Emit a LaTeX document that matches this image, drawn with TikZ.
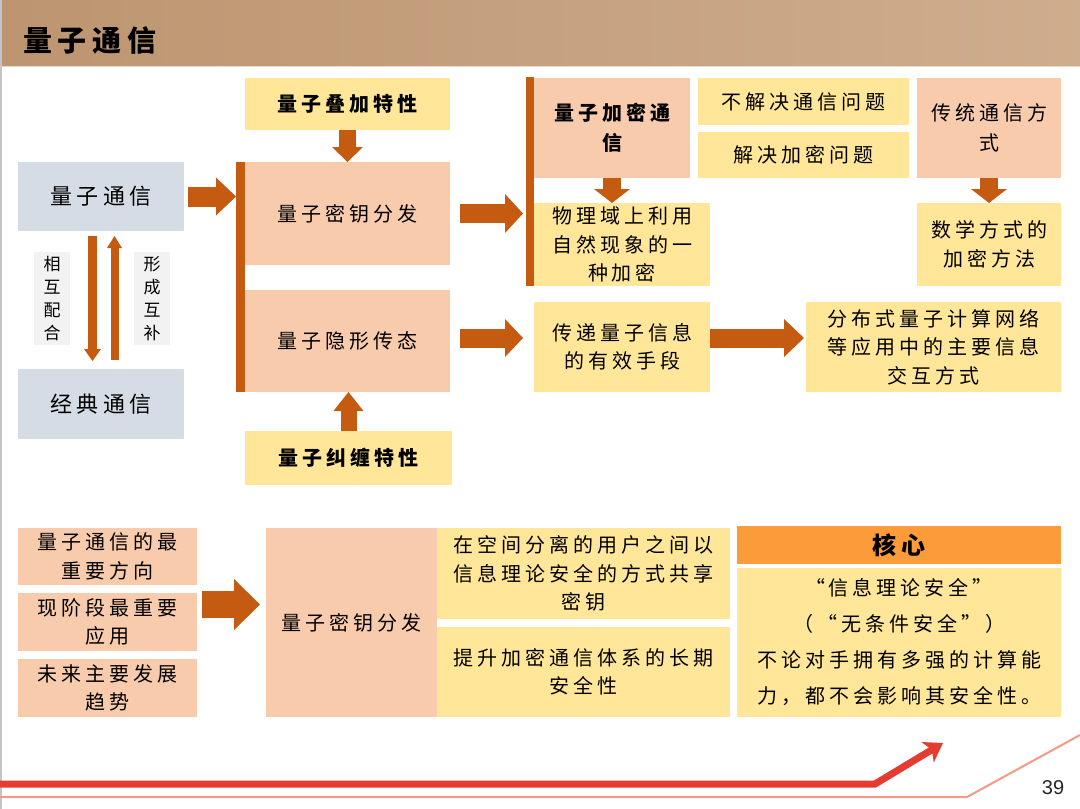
\documentclass[tikz,border=0pt]{standalone}
\usepackage{fontspec}
\setmainfont{Noto Sans CJK SC}
\newfontfamily\cjk{Noto Sans CJK SC}[LetterSpace=20]
\newfontfamily\cjkn{Noto Sans CJK SC}
\newfontfamily\numfont{Liberation Sans}
\usetikzlibrary{arrows.meta}
\definecolor{peach}{HTML}{F8CBAD}
\definecolor{ylw}{HTML}{FFE699}
\definecolor{bgrey}{HTML}{D6DCE5}
\definecolor{dorg}{HTML}{C55A11}
\definecolor{lgrey}{HTML}{F2F2F2}
\definecolor{corange}{HTML}{FB9B3A}
\definecolor{hdl}{HTML}{BD9570}
\definecolor{hdr}{HTML}{CEAD8E}
\definecolor{redl}{HTML}{E53B30}
\definecolor{pinkl}{HTML}{F29A85}
\definecolor{edgegrey}{HTML}{C4C4C4}
\tikzset{
  box/.style={inner sep=0pt, outer sep=0pt, align=center, text=black,
    font=\cjk\fontsize{20}{28.5}\selectfont},
  pbox/.style={box, fill=peach},
  ybox/.style={box, fill=ylw},
  gbox/.style={box, fill=bgrey, font=\cjk\fontsize{22}{26}\selectfont},
  vlabel/.style={fill=lgrey, inner sep=0pt, align=center, text=black,
    font=\cjkn\fontsize{17}{23}\selectfont},
  barbox/.style={fill=dorg, inner sep=0pt, outer sep=0pt},
  blk/.style n args={3}{draw=dorg, line width=#1, line cap=butt,
    -{Triangle[width=#2, length=#3, line width=0pt]}},
}
\begin{document}
\begin{tikzpicture}[x=1pt,y=-1pt]
\useasboundingbox (0,0) rectangle (1080,809);
\fill[white] (0,0) rectangle (1080,809);
% header
\shade[left color=hdl, right color=hdr] (0,0) rectangle (1080,66);
\draw[hdl!35!white, line width=1pt] (0,66.5) -- (1080,66.5);
\node[anchor=west, inner sep=0pt, text=black, font=\cjk\bfseries\fontsize{29}{32}\selectfont] (title) at (23,40) {量子通信};
\draw[edgegrey, line width=1.5pt] (1,0) -- (1,809);

% left column
\node[gbox, minimum width=166pt, minimum height=69pt] (qc) at (101,196.5) {量子通信};
\node[gbox, minimum width=166pt, minimum height=70pt] (cc) at (101,404) {经典通信};
\node[vlabel, minimum width=36pt, minimum height=93pt] (lbl1) at (52,298.5) {相\\互\\配\\合};
\node[vlabel, minimum width=36pt, minimum height=93pt] (lbl2) at (152,298.5) {形\\成\\互\\补};

% middle column
\node[barbox, minimum width=9pt, minimum height=230pt] (bar1) at (240.5,277) {};
\node[ybox, minimum width=205pt, minimum height=52pt, font=\cjk\bfseries\fontsize{20}{28.5}\selectfont] (sup) at (347.5,104) {量子叠加特性};
\node[pbox, minimum width=205pt, minimum height=103pt] (qkd) at (347.5,213.5) {量子密钥分发};
\node[pbox, minimum width=205pt, minimum height=102pt] (qt) at (347.5,341) {量子隐形传态};
\node[ybox, minimum width=207pt, minimum height=54pt, font=\cjk\bfseries\fontsize{20}{28.5}\selectfont] (ent) at (348.5,458) {量子纠缠特性};

% right part
\node[barbox, minimum width=8pt, minimum height=209pt] (bar2) at (530,181.5) {};
\node[pbox, minimum width=156pt, minimum height=100pt, font=\cjk\bfseries\fontsize{20}{30}\selectfont] (qec) at (612,128) {量子加密通\\信};
\node[ybox, minimum width=176pt, minimum height=83pt] (phy) at (622,244.5) {物理域上利用\\自然现象的一\\种加密};
\node[ybox, minimum width=211pt, minimum height=47pt] (nsc) at (803.5,101.5) {不解决通信问题};
\node[ybox, minimum width=211pt, minimum height=46pt] (sec) at (803.5,155) {解决加密问题};
\node[pbox, minimum width=144pt, minimum height=100pt, font=\cjk\fontsize{20}{30}\selectfont] (trad) at (989,128) {传统通信方\\式};
\node[ybox, minimum width=144pt, minimum height=83pt] (math) at (989,244.5) {数学方式的\\加密方法};
\node[ybox, minimum width=176pt, minimum height=90pt] (cd) at (622,347) {传递量子信息\\的有效手段};
\node[ybox, minimum width=255pt, minimum height=90pt] (dist) at (933.5,347) {分布式量子计算网络\\等应用中的主要信息\\交互方式};

% bottom part
\node[pbox, minimum width=179pt, minimum height=57pt] (b1) at (107.5,556.5) {量子通信的最\\重要方向};
\node[pbox, minimum width=179pt, minimum height=58pt] (b2) at (107.5,622) {现阶段最重要\\应用};
\node[pbox, minimum width=179pt, minimum height=58pt] (b3) at (107.5,688) {未来主要发展\\趋势};
\node[pbox, minimum width=171pt, minimum height=189pt] (bqkd) at (351.5,622.5) {量子密钥分发};
\node[ybox, minimum width=293pt, minimum height=91pt] (y1) at (583.5,573.5) {在空间分离的用户之间以\\信息理论安全的方式共享\\密钥};
\node[ybox, minimum width=293pt, minimum height=90pt] (y2) at (583.5,672) {提升加密通信体系的长期\\安全性};
\node[box, fill=corange, minimum width=324pt, minimum height=38pt, font=\cjk\bfseries\fontsize{24}{28}\selectfont] (core) at (899,545) {核心};
\node[ybox, minimum width=324pt, minimum height=149pt, font=\cjk\fontsize{20}{36}\selectfont] (body) at (899,642.5) {“信息理论安全”\\（“无条件安全”）\\不论对手拥有多强的计算能\\力，都不会影响其安全性。};

% block arrows
\draw[blk={20pt}{38pt}{20pt}] ([xshift=4pt]qc.east) -- (bar1.west |- qc.east);
\draw[blk={9pt}{17pt}{12pt}] ([shift={(-8.5,5)}]qc.south) -- ([shift={(-8.5,-8)}]cc.north);
\draw[blk={8pt}{15pt}{12pt}] ([shift={(13.5,-9)}]cc.north) -- ([shift={(13.5,5)}]qc.south);
\draw[blk={17pt}{31pt}{15pt}] (sup.south) -- (qkd.north);
\draw[blk={16pt}{30pt}{19pt}] (ent.north) -- (ent.north |- qt.south);
\draw[blk={19pt}{39pt}{18pt}] ([xshift=10pt]qkd.east) -- ([xshift=-3pt]bar2.west |- qkd.east);
\draw[blk={19pt}{38pt}{18pt}] ([shift={(10,-3)}]qt.east) -- ([shift={(-11,-9)}]cd.west);
\draw[blk={18pt}{36pt}{14pt}] (qec.south) -- (qec.south |- phy.north);
\draw[blk={18pt}{36pt}{14pt}] (trad.south) -- (math.north);
\draw[blk={19pt}{38pt}{20pt}] ([yshift=9pt]cd.east) -- ([shift={(-2,-9)}]dist.west);
\draw[blk={27pt}{51pt}{26pt}] ([shift={(5,-17.5)}]b2.east) -- ([shift={(-6,-18)}]bqkd.west);

% bottom decoration
\coordinate (r0) at (0,784);
\coordinate (r1) at (875,784);
\coordinate (r2) at (943,743);
\draw[redl, line width=7pt, line join=miter,
  -{Stealth[length=18pt, width=24pt, inset=5pt, line width=0pt]}] (r0) -- (r1) -- (r2);
\coordinate (p0) at (0,797);
\coordinate (p1) at (967,797);
\coordinate (p2) at (1080,735);
\draw[pinkl, line width=2pt] (p0) -- (p1) -- (p2);
\node[inner sep=0pt, text=black!85, font=\numfont\fontsize{20}{22}\selectfont] (pg) at (1053,788) {39};
\end{tikzpicture}
\end{document}
